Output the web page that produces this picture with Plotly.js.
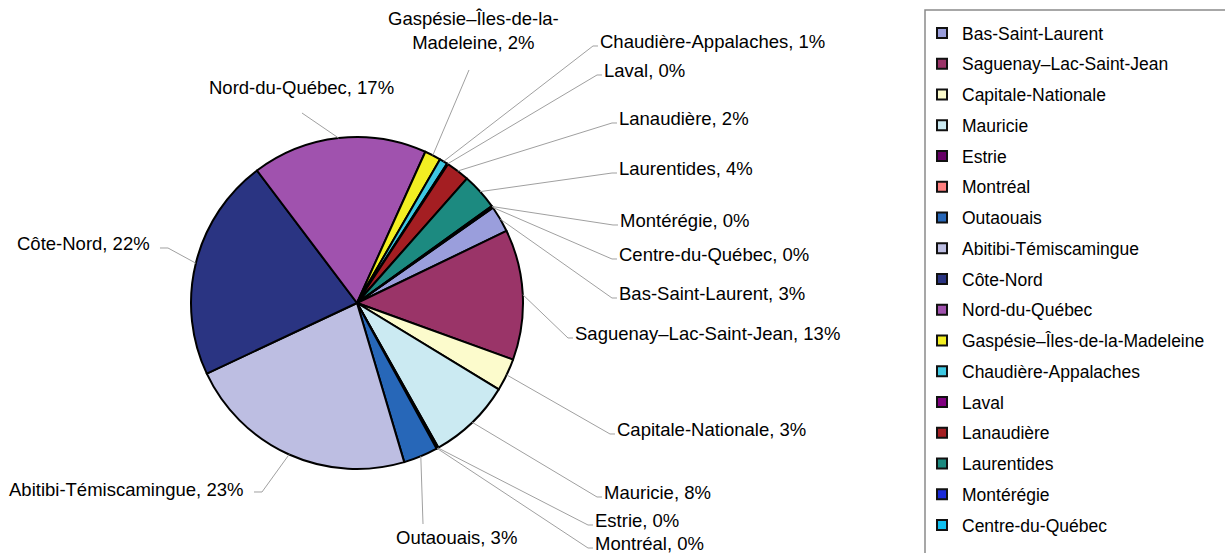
<!DOCTYPE html>
<html>
<head>
<meta charset="utf-8">
<script src="https://cdn.plot.ly/plotly-3.0.1.min.js"></script>
<style>html,body{margin:0;padding:0;background:#fff;}#chart{width:1225px;height:553px;}</style>
</head>
<body>
<div id="chart"></div>
<script>
// ---- data ----
const categories = ['Bas-Saint-Laurent','Saguenay–Lac-Saint-Jean','Capitale-Nationale','Mauricie','Estrie','Montréal','Outaouais','Abitibi-Témiscamingue','Côte-Nord','Nord-du-Québec','Gaspésie–Îles-de-la-Madeleine','Chaudière-Appalaches','Laval','Lanaudière','Laurentides','Montérégie','Centre-du-Québec'];
const values = [2.6, 12.8, 3.2, 8.2, 0.1, 0.1, 3.4, 22.8, 21.9, 17.2, 1.6, 0.8, 0.1, 2.3, 3.6, 0.1, 0.1];

// ---- styles ----
const sliceColors = ['#9a9edc','#9a3468','#fcfbcc','#cbeaf2','#660066','#ff8080','#2767b8','#bdbee2','#2a3482','#a052ae','#f2ee22','#3ec8e2','#800080','#a41e22','#1c8a80','#1a2ad8','#10c0f0'];

const W = 1225, H = 553;
const CX = 357, CY = 303, R = 166;   // pie geometry in px
const ROT = 55;                        // start angle (deg clockwise from 12 o'clock)

// label placement (px): text anchor point, anchor side, leader end
const labelLayout = [
  {tx:617, ty:293, a:'left',   lx:612, ly:298},
  {tx:573, ty:333, a:'left',   lx:568, ly:338},
  {tx:615, ty:429, a:'left',   lx:610, ly:434},
  {tx:602, ty:492, a:'left',   lx:597, ly:497},
  {tx:593, ty:520, a:'left',   lx:588, ly:525},
  {tx:593, ty:543, a:'left',   lx:588, ly:548},
  {tx:457, ty:537, a:'center', lx:423, ly:524},
  {tx:245, ty:489, a:'right',  lx:254, ly:492},
  {tx:152, ty:243, a:'right',  lx:160, ly:248},
  {tx:301, ty:87,  a:'center', lx:302, ly:113},
  {tx:474, ty:30,  a:'center', lx:469, ly:70, wrap:'la-'},
  {tx:598, ty:41,  a:'left',   lx:593, ly:46},
  {tx:602, ty:70,  a:'left',   lx:597, ly:75},
  {tx:617, ty:118, a:'left',   lx:612, ly:123},
  {tx:617, ty:168, a:'left',   lx:612, ly:173},
  {tx:618, ty:220, a:'left',   lx:613, ly:225},
  {tx:617, ty:254, a:'left',   lx:612, ly:259}
];

const FONT = 'Liberation Sans, Arial, sans-serif';
const px2x = p => p / W;
const px2y = p => 1 - p / H;

const total = values.reduce((s, v) => s + v, 0);

const annotations = [];
const shapes = [];
let cum = 0;
values.forEach((v, i) => {
  const mid = (ROT + 360 * (cum + v / 2) / total) * Math.PI / 180;
  cum += v;
  const ex = CX + R * Math.sin(mid), ey = CY - R * Math.cos(mid);
  const L = labelLayout[i];
  const pct = Math.round(100 * v / total);
  let name = categories[i];
  if (L.wrap) name = name.replace(L.wrap, L.wrap + '<br>');
  annotations.push({
    xref:'paper', yref:'paper', x:px2x(L.tx), y:px2y(L.ty),
    xanchor:L.a, yanchor:'middle', showarrow:false, align:'center',
    text: name + ', ' + pct + '%',
    font:{family:FONT, size:18.5, color:'#000'}
  });
  let pts = [[ex, ey], [L.lx, L.ly]];
  if (L.a === 'left') pts.push([L.lx + 5, L.ly]);
  if (L.a === 'right') pts = [[ex, ey], [L.lx + 8, L.ly], [L.lx, L.ly]];
  const path = pts.map((p, k) => (k ? 'L' : 'M') + px2x(p[0]).toFixed(5) + ',' + px2y(p[1]).toFixed(5)).join(' ');
  shapes.push({type:'path', xref:'paper', yref:'paper', path:path, line:{color:'#a0a0a0', width:1}});
});

// legend frame
shapes.push({type:'rect', xref:'paper', yref:'paper', x0:px2x(925), x1:1.02, y0:px2y(10), y1:-0.02,
  line:{color:'#8a8a8a', width:1.5}, fillcolor:'rgba(0,0,0,0)'});

const pie = {
  type:'pie', labels:categories, values:values, sort:false, direction:'clockwise', rotation:ROT,
  marker:{colors:sliceColors, line:{color:'#000', width:2}},
  textinfo:'none', textposition:'none', hoverinfo:'label+percent', showlegend:false,
  domain:{x:[px2x(CX - R), px2x(CX + R)], y:[px2y(CY + R), px2y(CY - R)]}
};

const legendTraces = categories.map((c, i) => ({
  type:'scatter', mode:'markers', x:[null], y:[null], name:c, legendgroup:'g' + i,
  marker:{symbol:'square', size:10, color:sliceColors[i], line:{color:'#111', width:2}},
  hoverinfo:'skip'
}));

const layout = {
  width:W, height:H, margin:{l:0, r:0, t:0, b:0},
  paper_bgcolor:'#fff', plot_bgcolor:'#fff',
  xaxis:{visible:false}, yaxis:{visible:false},
  showlegend:true,
  legend:{x:px2x(922), y:px2y(15), xanchor:'left', yanchor:'top', bgcolor:'rgba(0,0,0,0)',
    borderwidth:0, tracegroupgap:5, font:{family:FONT, size:17.5, color:'#000'}},
  annotations:annotations, shapes:shapes
};

Plotly.newPlot('chart', [pie].concat(legendTraces), layout, {displayModeBar:false, staticPlot:true});
</script>
</body>
</html>
